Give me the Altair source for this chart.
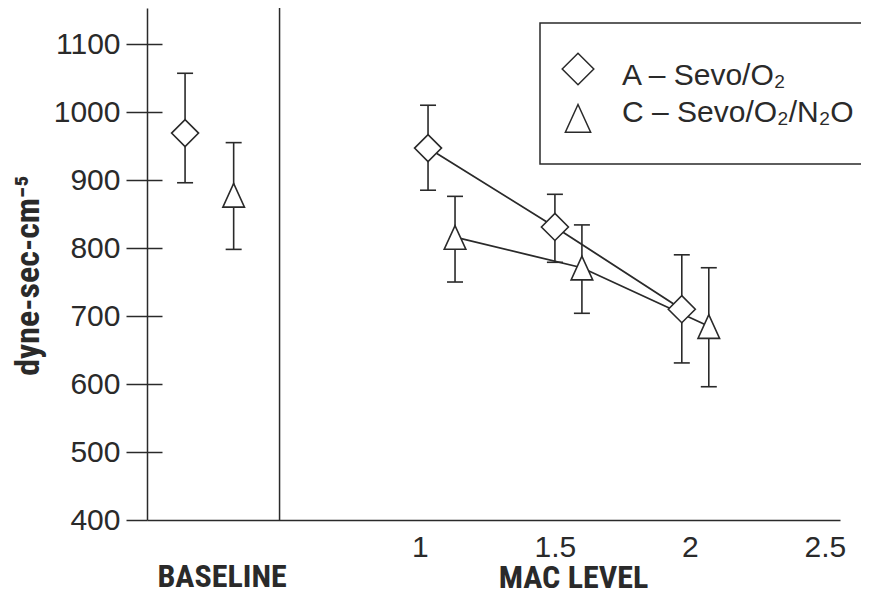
import altair as alt
import pandas as pd

# ---------------- data ----------------
series_names = ["A – Sevo/O₂", "C – Sevo/O₂/N₂O"]
phase = ["BASELINE", "MAC", "MAC", "MAC"]

a_x = [0.13, 1.03, 1.50, 1.97]
a_mean = [969, 947, 831, 710]
a_lo = [896, 885, 779, 631]
a_hi = [1057, 1010, 879, 790]

c_x = [0.31, 1.13, 1.60, 2.07]
c_mean = [878, 816, 771, 685]
c_lo = [798, 750, 704, 596]
c_hi = [955, 876, 834, 771]

x_tick_values = [1, 1.5, 2, 2.5]
y_tick_values = [400, 500, 600, 700, 800, 900, 1000, 1100]
y_inner_tick_values = [500, 600, 700, 800, 900, 1000, 1100]
divider_x = [0.48]
baseline_label_x = [0.267]
baseline_label = ["BASELINE"]

rows = []
for name, xs, m, lo, hi in [
    (series_names[0], a_x, a_mean, a_lo, a_hi),
    (series_names[1], c_x, c_mean, c_lo, c_hi),
]:
    for i in range(len(xs)):
        rows.append(dict(series=name, phase=phase[i], x=xs[i], mean=m[i], lo=lo[i], hi=hi[i]))
df = pd.DataFrame(rows)
legend_df = pd.DataFrame({"series": series_names})

# ---------------- styling ----------------
FONT = "Liberation Sans, Arial, sans-serif"
FONT_B = "Liberation Sans Narrow, Roboto Condensed, DejaVu Sans Condensed, Open Sans Condensed, Liberation Sans, sans-serif"
INK = "#2a2a2a"
TRI_PATH = "M-0.8,0.9L0.8,0.9L0,-0.85Z"
shape_scale = alt.Scale(domain=series_names, range=["diamond", TRI_PATH])

xscale = alt.Scale(domain=[-0.011, 2.556], nice=False, zero=False)
yscale = alt.Scale(domain=[400, 1153], nice=False, zero=False)

x_axis = alt.Axis(
    values=x_tick_values, format="~g", ticks=False, grid=False, labelFlush=False,
    labelPadding=12, labelFontSize=30, labelFont=FONT, labelColor=INK,
    domainColor=INK, domainWidth=1.5,
    title="MAC LEVEL", titleFont=FONT_B, titleFontSize=32, titleFontWeight="bold",
    titleColor=INK, titleX=426, titleY=67, titleAlign="center", titleBaseline="alphabetic",
)
y_axis = alt.Axis(
    values=y_tick_values, format="d", grid=False, tickSize=21, tickColor=INK, tickWidth=1.5,
    labelPadding=6, labelFontSize=30, labelFont=FONT, labelColor=INK,
    domainColor=INK, domainWidth=1.5,
    title="dyne-sec-cm⁻⁵", titleFont=FONT_B, titleFontSize=34, titleFontWeight="bold",
    titleColor=INK, titleX=-119, titleY=267, titleAngle=-90,
    titleAlign="center", titleBaseline="middle",
)
y_inner_axis = alt.Axis(
    values=y_inner_tick_values, grid=False, orient="left", offset=-15,
    tickSize=15, tickColor=INK, tickWidth=1.5, labels=False, domain=False, title="",
)

X = alt.X("x:Q", scale=xscale, axis=x_axis)
base = alt.Chart(df)

divider = alt.Chart(pd.DataFrame({"x": divider_x})).mark_rule(
    color=INK, strokeWidth=1.5
).encode(x=alt.X("x:Q", scale=xscale, axis=x_axis))

lines = base.transform_filter(alt.datum.phase == "MAC").mark_line(
    color=INK, strokeWidth=1.8
).encode(
    x=X, y=alt.Y("mean:Q", scale=yscale, axis=y_axis), detail="series:N", order="x:Q"
)

bars = base.mark_rule(color=INK, strokeWidth=1.6).encode(
    x=X, y=alt.Y("lo:Q", scale=yscale, axis=y_axis), y2="hi:Q"
)

cap_lo = base.mark_point(shape="stroke", size=256, stroke=INK, strokeWidth=1.6, opacity=1).encode(
    x=X, y=alt.Y("lo:Q", scale=yscale, axis=y_axis)
)
cap_hi = base.mark_point(shape="stroke", size=256, stroke=INK, strokeWidth=1.6, opacity=1).encode(
    x=X, y=alt.Y("hi:Q", scale=yscale, axis=y_axis)
)

points = base.mark_point(
    filled=True, fill="white", stroke=INK, strokeWidth=1.6, size=729, opacity=1
).encode(
    x=X,
    y=alt.Y("mean:Q", scale=yscale, axis=y_axis),
    shape=alt.Shape("series:N", scale=shape_scale, legend=None),
)

baseline_text = alt.Chart(
    pd.DataFrame({"x": baseline_label_x, "t": baseline_label})
).mark_text(
    font=FONT_B, fontSize=32, fontWeight="bold", color=INK, baseline="alphabetic", align="center"
).encode(x=alt.X("x:Q", scale=xscale, axis=x_axis), y=alt.value(579), text="t:N")

main = alt.layer(divider, lines, bars, cap_lo, cap_hi, points, baseline_text)

inner_ticks = alt.Chart(pd.DataFrame({"v": y_inner_tick_values})).mark_point(opacity=0).encode(
    y=alt.Y("v:Q", scale=yscale, axis=y_inner_axis)
)

# ---------------- legend (boxed, upper right) ----------------
leg = alt.Chart(legend_df)
leg_box = leg.transform_filter(alt.datum.series == series_names[0]).mark_rect(
    fill="white", stroke=INK, strokeWidth=1.5
).encode(x=alt.value(393), x2=alt.value(740), y=alt.value(15), y2=alt.value(156))
leg_symbols = leg.mark_point(
    filled=True, fill="white", stroke=INK, strokeWidth=1.5, size=1000, opacity=1
).encode(
    x=alt.value(431),
    y=alt.Y("series:N", scale=alt.Scale(domain=series_names, range=[61, 110], padding=0), axis=None),
    shape=alt.Shape("series:N", scale=shape_scale, legend=None),
)
leg_labels = leg.mark_text(
    font=FONT, fontSize=30, color=INK, align="left", baseline="middle"
).encode(
    x=alt.value(475),
    y=alt.Y("series:N", scale=alt.Scale(domain=series_names, range=[68, 105], padding=0), axis=None),
    text="series:N",
)
legend_layer = alt.layer(leg_box, leg_symbols, leg_labels).resolve_scale(y="independent")

chart = alt.layer(main, inner_ticks, legend_layer).resolve_scale(y="independent").properties(
    width=693, height=512,
    autosize=alt.AutoSizeParams(type="none"),
    padding={"left": 139, "top": 0, "right": 21, "bottom": 70},
    background="white",
).configure_view(strokeWidth=0)

chart.save("out.html", embed_options={"renderer": "svg", "actions": False})
